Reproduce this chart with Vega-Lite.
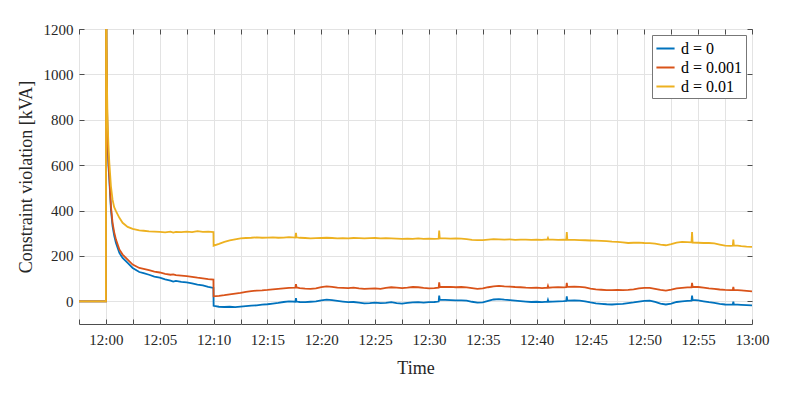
{
  "$schema": "https://vega.github.io/schema/vega-lite/v6.json",
  "width": 673,
  "height": 295,
  "autosize": {"type": "none"},
  "padding": {"left": 79, "top": 29, "right": 37, "bottom": 73},
  "background": "white",
  "config": {
    "font": "Liberation Serif",
    "view": {"stroke": "#4d4d4d", "strokeWidth": 1},
    "axis": {"labelFont": "Liberation Serif", "titleFont": "Liberation Serif", "labelColor": "#262626", "titleColor": "#262626", "tickColor": "#4d4d4d", "domain": false, "gridColor": "#e3e3e3", "gridWidth": 1, "titleFontWeight": "normal", "labelFontSize": 15, "titleFontSize": 18}
  },
  "data": {
    "format": {"parse": {"t": "date:'%H:%M:%S'"}},
    "values": [
      {"t": "11:57:30", "a": 0, "b": 0, "c": 0},
      {"t": "12:00:00", "a": 0, "b": 0, "c": 0},
      {"t": "12:00:01", "a": 1700, "b": 1700, "c": 1700},
      {"t": "12:00:03", "a": 1130, "b": 1150, "c": 1200},
      {"t": "12:00:06", "a": 860, "b": 880, "c": 950},
      {"t": "12:00:09", "a": 710, "b": 730, "c": 800},
      {"t": "12:00:14", "a": 600, "b": 620, "c": 690},
      {"t": "12:00:19", "a": 537, "b": 551, "c": 610},
      {"t": "12:00:28", "a": 404, "b": 419, "c": 507},
      {"t": "12:00:37", "a": 331, "b": 346, "c": 448},
      {"t": "12:00:46", "a": 290, "b": 305, "c": 415},
      {"t": "12:00:56", "a": 257, "b": 272, "c": 397},
      {"t": "12:01:15", "a": 213, "b": 228, "c": 368},
      {"t": "12:01:33", "a": 191, "b": 206, "c": 346},
      {"t": "12:02:01", "a": 169, "b": 184, "c": 328},
      {"t": "12:02:29", "a": 147, "b": 162, "c": 319},
      {"t": "12:03:06", "a": 129, "b": 147, "c": 313},
      {"t": "12:03:30", "a": 124, "b": 143, "c": 311},
      {"t": "12:04:00", "a": 117, "b": 137, "c": 308},
      {"t": "12:04:30", "a": 109, "b": 131, "c": 307},
      {"t": "12:05:00", "a": 104, "b": 127, "c": 306},
      {"t": "12:05:30", "a": 97, "b": 121, "c": 304},
      {"t": "12:06:00", "a": 91, "b": 117, "c": 307},
      {"t": "12:06:15", "a": 87, "b": 119, "c": 303},
      {"t": "12:06:30", "a": 90, "b": 115, "c": 306},
      {"t": "12:07:00", "a": 86, "b": 113, "c": 305},
      {"t": "12:07:30", "a": 83, "b": 111, "c": 307},
      {"t": "12:08:00", "a": 79, "b": 108, "c": 305},
      {"t": "12:08:30", "a": 74, "b": 104, "c": 309},
      {"t": "12:09:00", "a": 70, "b": 101, "c": 306},
      {"t": "12:09:30", "a": 64, "b": 98, "c": 307},
      {"t": "12:09:59", "a": 59, "b": 96, "c": 305},
      {"t": "12:10:00", "a": -20, "b": 22, "c": 245},
      {"t": "12:10:30", "a": -24, "b": 24, "c": 253},
      {"t": "12:11:00", "a": -25, "b": 27, "c": 262},
      {"t": "12:11:30", "a": -24, "b": 31, "c": 268},
      {"t": "12:12:00", "a": -26, "b": 34, "c": 273},
      {"t": "12:12:30", "a": -23, "b": 37, "c": 277},
      {"t": "12:13:00", "a": -21, "b": 42, "c": 279},
      {"t": "12:13:30", "a": -19, "b": 45, "c": 280},
      {"t": "12:14:00", "a": -18, "b": 47, "c": 282},
      {"t": "12:14:30", "a": -15, "b": 48, "c": 280},
      {"t": "12:15:00", "a": -13, "b": 50, "c": 281},
      {"t": "12:15:30", "a": -10, "b": 53, "c": 282},
      {"t": "12:16:00", "a": -7, "b": 55, "c": 280},
      {"t": "12:16:30", "a": -3, "b": 57, "c": 281},
      {"t": "12:17:00", "a": 0, "b": 59, "c": 283},
      {"t": "12:17:36", "a": -2, "b": 60, "c": 281},
      {"t": "12:17:39", "a": 14, "b": 76, "c": 302},
      {"t": "12:17:42", "a": -1, "b": 61, "c": 282},
      {"t": "12:18:00", "a": -3, "b": 58, "c": 280},
      {"t": "12:18:30", "a": -4, "b": 56, "c": 279},
      {"t": "12:19:00", "a": -2, "b": 55, "c": 277},
      {"t": "12:19:30", "a": 0, "b": 57, "c": 278},
      {"t": "12:20:00", "a": 4, "b": 63, "c": 279},
      {"t": "12:20:30", "a": 7, "b": 66, "c": 280},
      {"t": "12:21:00", "a": 5, "b": 64, "c": 279},
      {"t": "12:21:30", "a": 2, "b": 60, "c": 277},
      {"t": "12:22:00", "a": -1, "b": 59, "c": 278},
      {"t": "12:22:30", "a": -4, "b": 58, "c": 277},
      {"t": "12:23:00", "a": -3, "b": 60, "c": 279},
      {"t": "12:23:30", "a": -6, "b": 57, "c": 278},
      {"t": "12:24:00", "a": -9, "b": 55, "c": 277},
      {"t": "12:24:30", "a": -8, "b": 56, "c": 278},
      {"t": "12:25:00", "a": -6, "b": 57, "c": 279},
      {"t": "12:25:30", "a": -8, "b": 55, "c": 277},
      {"t": "12:26:00", "a": -7, "b": 59, "c": 278},
      {"t": "12:26:30", "a": -4, "b": 62, "c": 277},
      {"t": "12:27:00", "a": -8, "b": 60, "c": 276},
      {"t": "12:27:30", "a": -10, "b": 58, "c": 275},
      {"t": "12:28:00", "a": -7, "b": 60, "c": 276},
      {"t": "12:28:30", "a": -5, "b": 63, "c": 275},
      {"t": "12:29:00", "a": -4, "b": 62, "c": 277},
      {"t": "12:29:30", "a": -6, "b": 59, "c": 275},
      {"t": "12:30:00", "a": -4, "b": 57, "c": 276},
      {"t": "12:30:30", "a": -3, "b": 58, "c": 275},
      {"t": "12:30:54", "a": -1, "b": 60, "c": 276},
      {"t": "12:30:57", "a": 25, "b": 84, "c": 312},
      {"t": "12:31:00", "a": 7, "b": 64, "c": 278},
      {"t": "12:31:30", "a": 6, "b": 63, "c": 277},
      {"t": "12:32:00", "a": 5, "b": 64, "c": 276},
      {"t": "12:32:30", "a": 4, "b": 62, "c": 277},
      {"t": "12:33:00", "a": 4, "b": 63, "c": 276},
      {"t": "12:33:30", "a": 3, "b": 61, "c": 274},
      {"t": "12:34:00", "a": -2, "b": 58, "c": 271},
      {"t": "12:34:30", "a": -6, "b": 55, "c": 270},
      {"t": "12:35:00", "a": -5, "b": 57, "c": 270},
      {"t": "12:35:30", "a": 2, "b": 62, "c": 272},
      {"t": "12:36:00", "a": 8, "b": 66, "c": 274},
      {"t": "12:36:30", "a": 10, "b": 68, "c": 273},
      {"t": "12:37:00", "a": 7, "b": 66, "c": 272},
      {"t": "12:37:30", "a": 5, "b": 65, "c": 273},
      {"t": "12:38:00", "a": 3, "b": 63, "c": 271},
      {"t": "12:38:30", "a": 1, "b": 62, "c": 272},
      {"t": "12:39:00", "a": -1, "b": 60, "c": 272},
      {"t": "12:39:30", "a": -3, "b": 59, "c": 271},
      {"t": "12:40:00", "a": -2, "b": 60, "c": 272},
      {"t": "12:40:30", "a": -4, "b": 58, "c": 271},
      {"t": "12:41:00", "a": -2, "b": 60, "c": 273},
      {"t": "12:41:03", "a": 6, "b": 68, "c": 279},
      {"t": "12:41:06", "a": -2, "b": 60, "c": 272},
      {"t": "12:41:30", "a": -1, "b": 61, "c": 272},
      {"t": "12:42:00", "a": 0, "b": 62, "c": 271},
      {"t": "12:42:30", "a": 1, "b": 61, "c": 272},
      {"t": "12:42:45", "a": 2, "b": 62, "c": 271},
      {"t": "12:42:48", "a": 22, "b": 81, "c": 305},
      {"t": "12:42:51", "a": 3, "b": 64, "c": 272},
      {"t": "12:43:30", "a": 4, "b": 65, "c": 271},
      {"t": "12:44:00", "a": 3, "b": 64, "c": 270},
      {"t": "12:44:30", "a": 0, "b": 61, "c": 269},
      {"t": "12:45:00", "a": -5, "b": 56, "c": 268},
      {"t": "12:45:30", "a": -9, "b": 53, "c": 267},
      {"t": "12:46:00", "a": -11, "b": 51, "c": 266},
      {"t": "12:46:30", "a": -13, "b": 49, "c": 265},
      {"t": "12:47:00", "a": -14, "b": 49, "c": 263},
      {"t": "12:47:30", "a": -12, "b": 50, "c": 262},
      {"t": "12:48:00", "a": -11, "b": 49, "c": 260},
      {"t": "12:48:30", "a": -8, "b": 50, "c": 257},
      {"t": "12:49:00", "a": -5, "b": 53, "c": 258},
      {"t": "12:49:30", "a": -1, "b": 57, "c": 259},
      {"t": "12:50:00", "a": 2, "b": 59, "c": 257},
      {"t": "12:50:30", "a": 3, "b": 59, "c": 256},
      {"t": "12:51:00", "a": -3, "b": 55, "c": 254},
      {"t": "12:51:30", "a": -10, "b": 50, "c": 250},
      {"t": "12:52:00", "a": -14, "b": 47, "c": 247},
      {"t": "12:52:30", "a": -10, "b": 51, "c": 252},
      {"t": "12:53:00", "a": -3, "b": 57, "c": 259},
      {"t": "12:53:30", "a": 0, "b": 59, "c": 262},
      {"t": "12:54:00", "a": 2, "b": 61, "c": 261},
      {"t": "12:54:23", "a": 3, "b": 61, "c": 260},
      {"t": "12:54:26", "a": 25, "b": 81, "c": 305},
      {"t": "12:54:29", "a": 6, "b": 64, "c": 259},
      {"t": "12:55:00", "a": 4, "b": 63, "c": 258},
      {"t": "12:55:30", "a": 0, "b": 60, "c": 257},
      {"t": "12:56:00", "a": -4, "b": 57, "c": 257},
      {"t": "12:56:30", "a": -7, "b": 55, "c": 255},
      {"t": "12:57:00", "a": -11, "b": 52, "c": 250},
      {"t": "12:57:30", "a": -14, "b": 50, "c": 245},
      {"t": "12:58:00", "a": -15, "b": 49, "c": 244},
      {"t": "12:58:13", "a": -14, "b": 50, "c": 245},
      {"t": "12:58:16", "a": -2, "b": 64, "c": 272},
      {"t": "12:58:19", "a": -14, "b": 50, "c": 246},
      {"t": "12:58:40", "a": -15, "b": 49, "c": 245},
      {"t": "12:59:00", "a": -16, "b": 48, "c": 243},
      {"t": "12:59:30", "a": -17, "b": 46, "c": 241},
      {"t": "13:00:00", "a": -18, "b": 44, "c": 240}
    ]
  },
  "transform": [{"fold": ["a", "b", "c"], "as": ["k", "v"]}],
  "layer": [
    {
      "mark": {"type": "line", "clip": true, "strokeWidth": 1.8},
      "encoding": {
        "x": {
          "field": "t", "type": "temporal",
          "scale": {"domain": [{"year": 1900, "month": 1, "date": 1, "hours": 11, "minutes": 57, "seconds": 30}, {"year": 1900, "month": 1, "date": 1, "hours": 13, "minutes": 0, "seconds": 0}]},
          "axis": {
            "orient": "bottom", "title": "Time", "grid": true, "tickSize": -5, "labelPadding": 13, "titlePadding": 12, "labelFlush": false, "labelOverlap": false,
            "labelFont": "Liberation Serif", "titleFont": "Liberation Serif",
            "labelExpr": "seconds(datum.value) == 30 ? '' : timeFormat(datum.value, '%H:%M')",
            "values": [
              {"year": 1900, "month": 1, "date": 1, "hours": 11, "minutes": 57, "seconds": 30},
              {"year": 1900, "month": 1, "date": 1, "hours": 12, "minutes": 0, "seconds": 0},
              {"year": 1900, "month": 1, "date": 1, "hours": 12, "minutes": 2, "seconds": 30},
              {"year": 1900, "month": 1, "date": 1, "hours": 12, "minutes": 5, "seconds": 0},
              {"year": 1900, "month": 1, "date": 1, "hours": 12, "minutes": 7, "seconds": 30},
              {"year": 1900, "month": 1, "date": 1, "hours": 12, "minutes": 10, "seconds": 0},
              {"year": 1900, "month": 1, "date": 1, "hours": 12, "minutes": 12, "seconds": 30},
              {"year": 1900, "month": 1, "date": 1, "hours": 12, "minutes": 15, "seconds": 0},
              {"year": 1900, "month": 1, "date": 1, "hours": 12, "minutes": 17, "seconds": 30},
              {"year": 1900, "month": 1, "date": 1, "hours": 12, "minutes": 20, "seconds": 0},
              {"year": 1900, "month": 1, "date": 1, "hours": 12, "minutes": 22, "seconds": 30},
              {"year": 1900, "month": 1, "date": 1, "hours": 12, "minutes": 25, "seconds": 0},
              {"year": 1900, "month": 1, "date": 1, "hours": 12, "minutes": 27, "seconds": 30},
              {"year": 1900, "month": 1, "date": 1, "hours": 12, "minutes": 30, "seconds": 0},
              {"year": 1900, "month": 1, "date": 1, "hours": 12, "minutes": 32, "seconds": 30},
              {"year": 1900, "month": 1, "date": 1, "hours": 12, "minutes": 35, "seconds": 0},
              {"year": 1900, "month": 1, "date": 1, "hours": 12, "minutes": 37, "seconds": 30},
              {"year": 1900, "month": 1, "date": 1, "hours": 12, "minutes": 40, "seconds": 0},
              {"year": 1900, "month": 1, "date": 1, "hours": 12, "minutes": 42, "seconds": 30},
              {"year": 1900, "month": 1, "date": 1, "hours": 12, "minutes": 45, "seconds": 0},
              {"year": 1900, "month": 1, "date": 1, "hours": 12, "minutes": 47, "seconds": 30},
              {"year": 1900, "month": 1, "date": 1, "hours": 12, "minutes": 50, "seconds": 0},
              {"year": 1900, "month": 1, "date": 1, "hours": 12, "minutes": 52, "seconds": 30},
              {"year": 1900, "month": 1, "date": 1, "hours": 12, "minutes": 55, "seconds": 0},
              {"year": 1900, "month": 1, "date": 1, "hours": 12, "minutes": 57, "seconds": 30},
              {"year": 1900, "month": 1, "date": 1, "hours": 13, "minutes": 0, "seconds": 0}
            ]
          }
        },
        "y": {
          "field": "v", "type": "quantitative",
          "scale": {"domain": [-100, 1200], "nice": false, "zero": false},
          "axis": {"orient": "left", "title": "Constraint violation [kVA]", "grid": true, "format": "d", "values": [0, 200, 400, 600, 800, 1000, 1200], "tickSize": -5, "labelPadding": 11, "titlePadding": 8, "labelFlush": false, "labelFont": "Liberation Serif", "titleFont": "Liberation Serif"}
        },
        "color": {
          "field": "k", "type": "nominal",
          "scale": {"domain": ["a", "b", "c"], "range": ["#0072BD", "#D95319", "#EDB120"]},
          "legend": {
            "title": null, "orient": "top-right", "offset": 6,
            "labelExpr": "datum.label == 'a' ? 'd = 0' : datum.label == 'b' ? 'd = 0.001' : 'd = 0.01'",
            "labelFont": "Liberation Serif",
            "labelFontSize": 16, "labelColor": "#000000",
            "symbolType": "stroke", "symbolSize": 330, "symbolStrokeWidth": 2,
            "fillColor": "white", "strokeColor": "#777777", "padding": 3, "rowPadding": 0, "labelOffset": 5
          }
        }
      }
    },
    {
      "mark": {"type": "point", "opacity": 0},
      "encoding": {
        "x": {
          "field": "t", "type": "temporal",
          "axis": {
            "orient": "top", "title": null, "labels": false, "grid": false, "tickSize": -5,
            "values": [
              {"year": 1900, "month": 1, "date": 1, "hours": 11, "minutes": 57, "seconds": 30},
              {"year": 1900, "month": 1, "date": 1, "hours": 12, "minutes": 0, "seconds": 0},
              {"year": 1900, "month": 1, "date": 1, "hours": 12, "minutes": 2, "seconds": 30},
              {"year": 1900, "month": 1, "date": 1, "hours": 12, "minutes": 5, "seconds": 0},
              {"year": 1900, "month": 1, "date": 1, "hours": 12, "minutes": 7, "seconds": 30},
              {"year": 1900, "month": 1, "date": 1, "hours": 12, "minutes": 10, "seconds": 0},
              {"year": 1900, "month": 1, "date": 1, "hours": 12, "minutes": 12, "seconds": 30},
              {"year": 1900, "month": 1, "date": 1, "hours": 12, "minutes": 15, "seconds": 0},
              {"year": 1900, "month": 1, "date": 1, "hours": 12, "minutes": 17, "seconds": 30},
              {"year": 1900, "month": 1, "date": 1, "hours": 12, "minutes": 20, "seconds": 0},
              {"year": 1900, "month": 1, "date": 1, "hours": 12, "minutes": 22, "seconds": 30},
              {"year": 1900, "month": 1, "date": 1, "hours": 12, "minutes": 25, "seconds": 0},
              {"year": 1900, "month": 1, "date": 1, "hours": 12, "minutes": 27, "seconds": 30},
              {"year": 1900, "month": 1, "date": 1, "hours": 12, "minutes": 30, "seconds": 0},
              {"year": 1900, "month": 1, "date": 1, "hours": 12, "minutes": 32, "seconds": 30},
              {"year": 1900, "month": 1, "date": 1, "hours": 12, "minutes": 35, "seconds": 0},
              {"year": 1900, "month": 1, "date": 1, "hours": 12, "minutes": 37, "seconds": 30},
              {"year": 1900, "month": 1, "date": 1, "hours": 12, "minutes": 40, "seconds": 0},
              {"year": 1900, "month": 1, "date": 1, "hours": 12, "minutes": 42, "seconds": 30},
              {"year": 1900, "month": 1, "date": 1, "hours": 12, "minutes": 45, "seconds": 0},
              {"year": 1900, "month": 1, "date": 1, "hours": 12, "minutes": 47, "seconds": 30},
              {"year": 1900, "month": 1, "date": 1, "hours": 12, "minutes": 50, "seconds": 0},
              {"year": 1900, "month": 1, "date": 1, "hours": 12, "minutes": 52, "seconds": 30},
              {"year": 1900, "month": 1, "date": 1, "hours": 12, "minutes": 55, "seconds": 0},
              {"year": 1900, "month": 1, "date": 1, "hours": 12, "minutes": 57, "seconds": 30},
              {"year": 1900, "month": 1, "date": 1, "hours": 13, "minutes": 0, "seconds": 0}
            ]
          }
        },
        "y": {
          "field": "v", "type": "quantitative",
          "axis": {"orient": "right", "title": null, "labels": false, "grid": false, "tickSize": -5, "values": [0, 200, 400, 600, 800, 1000, 1200]}
        }
      }
    }
  ],
  "resolve": {"axis": {"x": "independent", "y": "independent"}}
}
